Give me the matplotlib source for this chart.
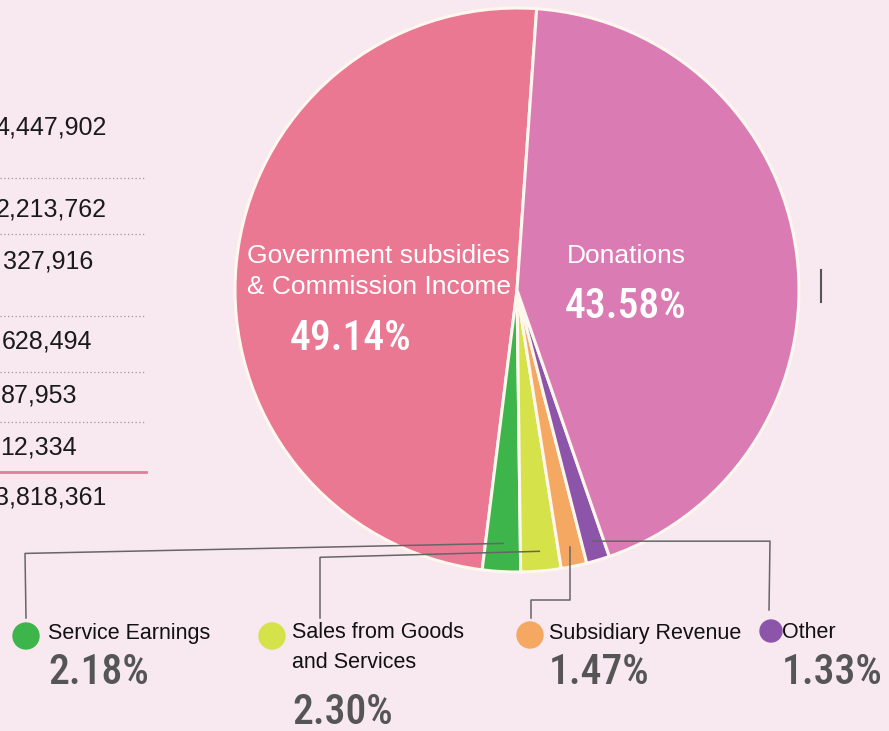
import numpy as np
import matplotlib.pyplot as plt
from matplotlib import font_manager as fm
from matplotlib.patches import Circle

# data
labels = ["Government subsidies\n& Commission Income", "Service Earnings",
          "Sales from Goods\nand Services", "Subsidiary Revenue", "Other", "Donations"]
shares = [49.14, 2.18, 2.30, 1.47, 1.33, 43.58]
colors = ["#ea7893", "#3db54a", "#d5e24a", "#f5a862", "#8c55a9", "#db7bb3"]

table_vals = ["4,447,902", "2,213,762", "327,916", "628,494", "87,953", "12,334", "3,818,361"]

bg = "#f8e8f0"
W, H = 889, 731
fig = plt.figure(figsize=(W / 100, H / 100), dpi=100, facecolor=bg)
ax = fig.add_axes([0, 0, 1, 1])
ax.set_facecolor(bg)

cx, cy, r = 517, 290, 282
# y axis is flipped (pixel coords), so draw clockwise in data space
wedges, _ = ax.pie(shares, colors=colors, startangle=-86, counterclock=False,
                   center=(cx, cy), radius=r,
                   wedgeprops=dict(edgecolor="#fdf7ee", linewidth=2.2))
ax.set_xlim(0, W)
ax.set_ylim(H, 0)
ax.set_aspect("equal")
ax.axis("off")

sans = ["Liberation Sans", "DejaVu Sans"]

# pick a condensed face for the big percentages if one is installed
names = {f.name for f in fm.fontManager.ttflist}
condensed = [f for f in fm.fontManager.ttflist
             if "condensed" in str(f.stretch) or "narrow" in f.name.lower()
             or "condensed" in f.name.lower()]
pct_kw = dict(family=["Roboto", "DejaVu Sans"], weight="medium", fontsize=25.5)
for n in ["Roboto Condensed", "Liberation Sans Narrow", "Open Sans Condensed"]:
    if n in names:
        pct_kw = dict(family=[n, "DejaVu Sans"], weight="medium", fontsize=30)
        break
else:
    dv = [f for f in condensed if f.name == "DejaVu Sans" and f.weight in ("normal", 400)]
    if dv:
        pct_kw = dict(family=["DejaVu Sans"], stretch="condensed", fontsize=28)

# labels inside the pie
ax.text(247, 256, "Government subsidies", color="white", fontsize=19, family=sans, va="center")
ax.text(247, 287, "& Commission Income", color="white", fontsize=19, family=sans, va="center")
ax.text(290, 338, f"{shares[0]:.2f}%", color="white", va="center", **pct_kw)
ax.text(567, 256, labels[5], color="white", fontsize=19, family=sans, va="center")
ax.text(565, 306, f"{shares[5]:.2f}%", color="white", va="center", **pct_kw)

# left table (cut off at the edge)
row_y = [128, 209, 261, 342, 395, 447, 497]
row_x = [107, 107, 93, 92, 77, 77, 106]
for v, x, y in zip(table_vals, row_x, row_y):
    ax.text(x, y, v, ha="right", va="center", fontsize=18, family=sans, color="#1a1a1a")
for y in [178, 234, 316, 372, 422]:
    ax.plot([0, 146], [y, y], color="#999999", lw=0.9, ls=(0, (1, 2)))
ax.plot([0, 146], [472, 472], color="#e07f96", lw=2)

# small mark on the right
ax.plot([821, 821], [270, 302], color="#555555", lw=1.5)

# legend items for the small slices
leg = [  # dot x, dot y, dot radius, text x, pct y
    (26, 636, 13, 48, 673),
    (272, 636, 13, 292, 713),
    (530, 635, 13, 549, 673),
    (771, 631, 11, 782, 673),
]
for i, (dx, dy, dr, tx, py) in zip(range(1, 5), leg):
    ax.add_patch(Circle((dx, dy), dr, color=colors[i], zorder=3))
    for k, line in enumerate(labels[i].split("\n")):
        ax.text(tx, 633 + 30 * k, line, fontsize=15.5, family=sans, color="#111111",
                va="center")
    ax.text(tx, py, f"{shares[i]:.2f}%", color="#555555", va="center", **pct_kw)

# connector lines from each small slice to its legend dot
def slice_point(w, f=0.93):
    t = np.deg2rad((w.theta1 + w.theta2) / 2)
    return cx + f * r * np.cos(t), cy + f * r * np.sin(t)

lc = dict(color="#666666", lw=1.1, zorder=4)
x0, y0 = slice_point(wedges[1], 0.9)
ax.plot([x0, 25, 26], [y0, y0 + 10, 618], **lc)
x0, y0 = slice_point(wedges[2])
ax.plot([x0, 320, 320], [y0, y0 + 6, 618], **lc)
x0, y0 = slice_point(wedges[3])
ax.plot([x0, x0, 531, 531], [y0, 600, 600, 618], **lc)
x0, y0 = slice_point(wedges[4])
ax.plot([x0, 770, 769], [y0, y0, 610], **lc)

fig.savefig("out.png", dpi=100, facecolor=bg)
